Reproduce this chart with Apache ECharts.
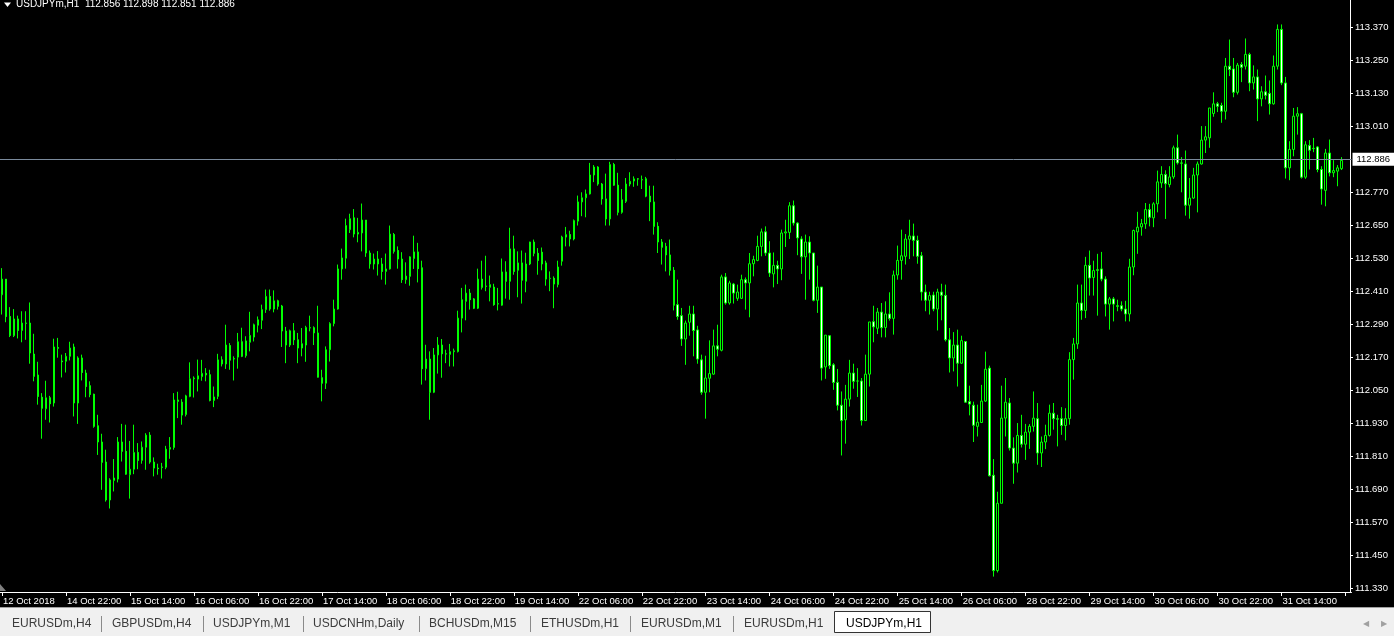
<!DOCTYPE html>
<html><head><meta charset="utf-8">
<script src="https://cdn.jsdelivr.net/npm/echarts@6/dist/echarts.min.js"></script>
<style>html,body{margin:0;padding:0;background:#000;overflow:hidden}#c{width:1394px;height:636px;}</style>
</head><body><div id="c"></div>
<script>
// ---------- data ----------
const symbolTitle = 'USDJPYm,H1';
const lastQuote = ['112.856', '112.898', '112.851', '112.886'];
const bidPrice = 112.886;
const xTickLabels = ['12 Oct 2018','14 Oct 22:00','15 Oct 14:00','16 Oct 06:00','16 Oct 22:00','17 Oct 14:00','18 Oct 06:00','18 Oct 22:00','19 Oct 14:00','22 Oct 06:00','22 Oct 22:00','23 Oct 14:00','24 Oct 06:00','24 Oct 22:00','25 Oct 14:00','26 Oct 06:00','28 Oct 22:00','29 Oct 14:00','30 Oct 06:00','30 Oct 22:00','31 Oct 14:00'];
const barsPerLabel = 16;
const yTicks = [111.330,111.450,111.570,111.690,111.810,111.930,112.050,112.170,112.290,112.410,112.530,112.650,112.770,113.010,113.130,113.250,113.370];
const tabNames = ['EURUSDm,H4','GBPUSDm,H4','USDJPYm,M1','USDCNHm,Daily','BCHUSDm,M15','ETHUSDm,H1','EURUSDm,M1','EURUSDm,H1','USDJPYm,H1'];

const openP = [
112.397,112.454,112.318,112.248,112.309,112.267,112.294,112.294,112.181,112.105,
112.024,111.982,112.022,112.003,112.205,112.156,112.155,112.173,112.207,112.003,
112.167,112.112,112.066,112.035,111.920,111.861,111.788,111.650,111.721,111.726,
111.861,111.827,111.742,111.762,111.823,111.794,111.842,111.886,111.788,111.766,
111.770,111.769,111.835,111.841,112.014,112.006,111.961,112.027,112.091,112.090,
112.099,112.111,112.106,112.012,112.027,112.160,112.145,112.212,112.163,112.170,
112.226,112.175,112.224,112.243,112.286,112.304,112.343,112.391,112.345,112.375,
112.356,112.265,112.214,112.266,112.233,112.203,112.214,112.277,112.277,112.258,
112.095,112.075,112.197,112.292,112.345,
112.491,112.530,112.634,112.677,112.618,112.622,112.669,112.549,112.509,112.527,
112.509,112.482,112.491,112.616,112.558,112.527,112.452,112.464,112.529,112.553,
112.495,112.128,112.163,112.042,112.178,112.214,112.182,112.180,112.190,112.190,
112.312,112.373,112.403,112.382,112.348,112.454,112.427,112.424,112.425,112.363,
112.359,112.480,112.446,112.564,112.486,112.513,112.446,112.509,112.589,112.548,
112.552,112.513,112.456,112.457,112.434,112.519,112.607,112.616,112.600,112.665,
112.735,112.750,112.764,112.833,112.862,112.800,112.746,112.673,112.871,112.796,
112.697,112.737,112.800,112.811,112.819,112.816,112.819,112.756,112.735,112.646,
112.589,112.573,112.542,112.486,
112.361,112.321,112.236,112.297,112.327,112.269,112.160,112.042,112.093,112.108,
112.211,112.195,112.462,112.367,112.436,112.384,112.384,112.452,112.440,112.510,
112.522,112.573,112.626,112.549,112.473,112.504,112.491,112.622,112.624,112.721,
112.658,112.600,112.535,112.589,112.549,112.377,112.425,112.134,112.248,112.142,
112.078,111.995,111.942,112.017,112.112,112.083,112.083,111.939,112.108,112.299,
112.275,112.334,112.278,112.327,112.311,112.469,112.522,112.537,112.599,112.611,
112.595,112.539,112.407,112.377,112.396,112.345,112.407,112.395,112.233,112.167,
112.214,112.148,112.227,112.008,111.995,111.918,111.932,112.010,112.130,111.740,
111.393,111.638,111.948,112.003,
111.839,111.784,111.885,111.853,111.897,111.918,111.946,111.821,111.861,111.885,111.966,111.946,111.946,111.921,111.946,112.161,
112.218,112.367,112.340,112.504,112.460,112.488,112.491,112.454,112.363,112.382,
112.357,112.357,112.345,112.327,112.498,112.626,112.644,112.655,112.707,112.677,
112.728,112.804,112.835,112.798,112.826,112.932,112.877,112.873,112.723,112.749,
112.833,112.873,112.960,112.968,113.057,113.092,113.086,113.065,113.229,113.219,
113.134,113.235,113.229,113.272,113.168,113.190,113.110,113.136,113.130,113.092,
113.229,113.363,113.168,112.859,112.926,113.047,113.056,112.825,112.940,112.930,
112.935,112.853,112.777,112.913,112.841,112.847,112.856
];
const highP = [
112.494,112.454,112.352,112.345,112.321,112.337,112.337,112.369,112.255,112.153,
112.039,112.084,112.029,112.237,112.240,112.179,112.185,112.226,112.219,112.173,
112.179,112.124,112.082,112.037,111.960,111.891,111.833,111.729,111.799,111.879,
111.927,111.924,111.865,111.924,111.857,111.863,111.893,111.897,111.805,111.782,
111.785,111.847,111.879,112.039,112.044,112.017,112.033,112.151,112.100,112.161,
112.160,112.130,112.124,112.063,112.182,112.173,112.288,112.221,112.173,112.258,
112.277,112.246,112.335,112.292,112.318,112.361,112.416,112.416,112.413,112.379,
112.360,112.280,112.270,112.294,112.258,112.276,112.284,112.321,112.282,112.357,
112.124,112.209,112.297,112.379,112.507,
112.565,112.674,112.692,112.709,112.677,112.729,112.669,112.558,112.547,112.556,
112.531,112.547,112.649,112.622,112.573,112.552,112.515,112.537,112.612,112.586,
112.521,112.215,112.191,112.203,112.243,112.236,112.197,112.218,112.201,112.339,
112.422,112.434,112.418,112.385,112.492,112.521,112.539,112.467,112.437,112.422,
112.529,112.519,112.641,112.612,112.555,112.558,112.550,112.590,112.598,112.567,
112.569,112.521,112.482,112.464,112.521,112.612,112.644,112.630,112.671,112.758,
112.770,112.780,112.877,112.869,112.865,112.804,112.838,112.881,112.877,112.841,
112.782,112.822,112.843,112.828,112.822,112.831,112.826,112.794,112.794,112.661,
112.600,112.586,112.598,112.498,
112.452,112.349,112.303,112.357,112.357,112.284,112.179,112.175,112.231,112.270,
112.288,112.470,112.476,112.448,112.440,112.434,112.470,112.460,112.549,112.539,
112.612,112.638,112.646,112.592,112.551,112.521,112.634,112.670,112.734,112.740,
112.661,112.610,112.616,112.610,112.549,112.503,112.425,112.250,112.249,112.148,
112.127,112.045,112.069,112.160,112.146,112.130,112.094,112.179,112.298,112.357,
112.349,112.367,112.373,112.406,112.485,112.576,112.634,112.618,112.670,112.656,
112.612,112.553,112.434,112.408,112.408,112.419,112.437,112.434,112.276,112.261,
112.270,112.248,112.227,112.066,112.008,111.997,112.069,112.190,112.139,111.799,
111.680,112.066,112.094,112.021,
111.878,111.930,111.960,111.927,111.926,112.045,112.003,111.881,111.924,111.997,112.003,111.960,111.988,111.984,112.188,112.240,
112.434,112.434,112.535,112.558,112.521,112.546,112.553,112.464,112.389,112.389,
112.379,112.373,112.375,112.528,112.634,112.699,112.673,112.731,112.728,112.734,
112.849,112.865,112.850,112.865,112.940,112.980,112.898,112.922,112.822,112.859,
112.882,113.011,113.011,113.077,113.134,113.099,113.096,113.259,113.326,113.259,
113.241,113.244,113.330,113.278,113.232,113.217,113.156,113.195,113.177,113.268,
113.381,113.381,113.190,112.956,113.077,113.080,113.059,112.956,112.960,112.968,
112.938,112.865,112.928,112.962,112.887,112.869,112.898
];
const lowP = [
112.325,112.297,112.243,112.243,112.238,112.224,112.233,112.146,112.082,111.997,
111.873,111.942,111.932,111.990,112.168,112.096,112.114,112.158,111.954,111.927,
112.085,112.024,112.024,111.913,111.814,111.687,111.644,111.619,111.681,111.714,
111.790,111.742,111.655,111.744,111.762,111.782,111.760,111.782,111.736,111.742,
111.728,111.762,111.800,111.833,111.948,111.924,111.954,112.024,112.023,112.045,
112.084,112.082,112.009,111.988,112.017,112.136,112.127,112.124,112.085,112.128,
112.170,112.168,112.191,112.227,112.260,112.272,112.331,112.339,112.333,112.343,
112.207,112.148,112.207,112.214,112.148,112.173,112.153,112.264,112.214,112.096,
112.009,112.054,112.154,112.282,112.343,
112.452,112.492,112.622,112.606,112.588,112.555,112.535,112.492,112.489,112.467,
112.452,112.434,112.489,112.547,112.492,112.440,112.437,112.430,112.491,112.442,
112.070,112.085,111.942,112.039,112.110,112.095,112.148,112.136,112.136,112.187,
112.260,112.304,112.343,112.345,112.345,112.416,112.410,112.373,112.357,112.340,
112.357,112.383,112.379,112.470,112.388,112.365,112.406,112.505,112.537,112.470,
112.486,112.430,112.410,112.348,112.424,112.503,112.573,112.573,112.595,112.649,
112.683,112.679,112.762,112.807,112.794,112.725,112.649,112.649,112.794,112.686,
112.692,112.731,112.792,112.790,112.794,112.782,112.752,112.665,112.616,112.549,
112.507,112.482,112.467,112.340,
112.306,112.211,112.142,112.248,112.173,112.146,112.033,111.946,112.042,112.106,
112.173,112.191,112.361,112.361,112.365,112.375,112.382,112.343,112.315,112.464,
112.519,112.537,112.539,112.462,112.424,112.436,112.450,112.571,112.600,112.649,
112.541,112.473,112.379,112.452,112.373,112.331,112.085,112.091,112.127,112.051,
111.976,111.812,111.855,111.990,112.055,112.025,111.921,111.938,112.063,112.224,
112.254,112.242,112.242,112.303,112.252,112.452,112.452,112.507,112.527,112.537,
112.510,112.376,112.337,112.325,112.337,112.267,112.304,112.227,112.114,112.118,
112.063,112.145,112.003,111.958,111.861,111.881,111.930,112.007,111.736,111.371,
111.386,111.638,111.881,111.830,
111.709,111.750,111.841,111.796,111.836,111.899,111.778,111.770,111.835,111.881,111.906,111.845,111.887,111.867,111.924,112.088,
112.200,112.306,112.312,112.394,112.394,112.321,112.446,112.318,112.270,112.300,
112.337,112.337,112.300,112.300,112.468,112.546,112.612,112.637,112.646,112.643,
112.697,112.786,112.673,112.788,112.819,112.871,112.770,112.685,112.674,112.746,
112.697,112.871,112.913,112.932,113.045,113.062,113.023,113.035,113.193,113.116,
113.126,113.171,113.217,113.138,113.144,113.029,113.083,113.108,113.053,113.089,
113.217,113.160,112.820,112.814,112.901,112.980,112.820,112.819,112.853,112.916,
112.843,112.725,112.719,112.828,112.825,112.792,112.851
];
const closeP = [
112.454,112.318,112.249,112.309,112.267,112.294,112.293,112.185,112.100,112.027,
111.984,112.022,112.000,112.207,112.202,112.153,112.173,112.203,112.003,112.167,
112.114,112.063,112.034,111.918,111.861,111.787,111.650,111.723,111.730,111.861,
111.827,111.744,111.762,111.823,111.794,111.842,111.886,111.788,111.766,111.764,
111.769,111.835,111.841,112.014,112.009,111.959,112.029,112.091,112.094,112.102,
112.111,112.105,112.012,112.025,112.160,112.145,112.214,112.159,112.165,112.226,
112.173,112.229,112.249,112.288,112.306,112.343,112.391,112.345,112.375,112.355,
112.265,112.214,112.266,112.233,112.203,112.219,112.278,112.276,112.258,112.097,
112.075,112.197,112.292,112.345,112.491,
112.531,112.649,112.674,112.618,112.624,112.669,112.549,112.509,112.527,112.509,
112.482,112.491,112.618,112.555,112.527,112.452,112.465,112.535,112.553,112.492,
112.128,112.163,112.042,112.178,112.214,112.182,112.181,112.190,112.193,112.312,
112.379,112.403,112.379,112.348,112.454,112.424,112.429,112.434,112.361,112.365,
112.480,112.446,112.564,112.482,112.513,112.450,112.509,112.589,112.548,112.522,
112.509,112.454,112.457,112.436,112.498,112.607,112.616,112.600,112.667,112.735,
112.750,112.764,112.833,112.862,112.800,112.746,112.673,112.871,112.796,112.697,
112.743,112.800,112.810,112.819,112.818,112.815,112.756,112.735,112.646,112.589,
112.570,112.542,112.486,112.359,
112.318,112.236,112.294,112.327,112.267,112.163,112.042,112.094,112.110,112.211,
112.199,112.462,112.367,112.440,112.403,112.407,112.452,112.440,112.510,112.525,
112.573,112.626,112.549,112.476,112.504,112.491,112.622,112.626,112.721,112.658,
112.604,112.535,112.589,112.549,112.377,112.425,112.130,112.250,112.139,112.078,
111.995,111.939,112.017,112.112,112.082,112.083,111.939,112.108,112.298,112.280,
112.334,112.277,112.327,112.311,112.469,112.522,112.539,112.600,112.611,112.595,
112.537,112.407,112.377,112.394,112.345,112.407,112.395,112.233,112.167,112.214,
112.148,112.230,112.006,111.999,111.922,111.933,112.010,112.126,111.738,111.393,
111.638,111.948,112.006,111.839,
111.784,111.885,111.853,111.897,111.918,111.948,111.821,111.861,111.885,111.966,111.946,111.944,111.921,111.946,112.161,112.218,
112.367,112.340,112.504,112.458,112.485,112.486,112.454,112.363,112.382,112.363,
112.355,112.345,112.327,112.498,112.631,112.643,112.656,112.707,112.679,112.728,
112.808,112.835,112.801,112.826,112.932,112.877,112.876,112.723,112.749,112.833,
112.873,112.960,112.972,113.077,113.092,113.083,113.065,113.229,113.217,113.134,
113.233,113.225,113.272,113.168,113.190,113.110,113.136,113.123,113.092,113.229,
113.363,113.168,112.859,112.926,113.047,113.056,112.825,112.943,112.923,112.929,
112.853,112.782,112.913,112.841,112.849,112.859,112.886
];

// ---------- build ----------
const N_SLOTS = openP.length + 2;           // a couple of empty slots to the right, like MT4
const categories = Array.from({length: N_SLOTS}, (_, i) => String(i));
const candles = openP.map((o, i) => [o, closeP[i], lowP[i], highP[i]]);
const FONT = 'Liberation Sans, Arial, sans-serif';

const chart = echarts.init(document.getElementById('c'), null, {renderer: 'canvas'});

// tab-bar layout (pixel positions of the MT4 window chrome)
const tabTextX = [12, 112, 213, 313, 429, 541, 641, 744, 846];
const sepX = [101, 203, 303, 419, 530, 630, 733];
const graphics = [
  // header
  {type: 'polygon', shape: {points: [[4, 2.5], [11, 2.5], [7.5, 7]]}, style: {fill: '#fff'}, silent: true},
  {type: 'text', x: 16, y: 4, style: {text: symbolTitle + '  ' + lastQuote.join(' '), fill: '#fff', font: '10px ' + FONT, textVerticalAlign: 'middle'}, silent: true},
  // chart shift marker bottom-left
  {type: 'polygon', shape: {points: [[0, 584], [0, 591], [6, 591]]}, style: {fill: '#808080'}, silent: true},
  // tab bar
  {type: 'rect', shape: {x: 0, y: 607, width: 1394, height: 29}, style: {fill: '#f0f0f0'}, silent: true},
  {type: 'line', shape: {x1: 0, y1: 607.5, x2: 1394, y2: 607.5}, style: {stroke: '#a0a0a0', lineWidth: 1}, silent: true},
  {type: 'rect', shape: {x: 834.5, y: 611.5, width: 96, height: 21}, style: {fill: '#ffffff', stroke: '#333', lineWidth: 1}, silent: true},
  {type: 'text', x: 1366, y: 624, style: {text: '◀', fill: '#a0a0a0', font: '8px ' + FONT, textAlign: 'center', textVerticalAlign: 'middle'}, silent: true},
  {type: 'text', x: 1384, y: 624, style: {text: '▶', fill: '#a0a0a0', font: '8px ' + FONT, textAlign: 'center', textVerticalAlign: 'middle'}, silent: true}
];
tabNames.forEach((t, i) => {
  graphics.push({type: 'text', x: tabTextX[i], y: 624, silent: true,
    style: {text: t, fill: i === tabNames.length - 1 ? '#000' : '#3c3c3c', font: '12px ' + FONT, textVerticalAlign: 'middle'}});
});
sepX.forEach(x => {
  graphics.push({type: 'line', silent: true, shape: {x1: x + 0.5, y1: 616, x2: x + 0.5, y2: 632}, style: {stroke: '#8a8a8a', lineWidth: 1}});
});

chart.setOption({
  animation: false,
  backgroundColor: '#000',
  grid: {left: -0.5, top: 0, width: 4 * N_SLOTS, height: 592, containLabel: false},
  xAxis: {
    type: 'category',
    data: categories,
    boundaryGap: true,
    axisLine: {show: true, lineStyle: {color: '#ffffff', width: 1}},
    axisTick: {show: true, alignWithLabel: true, length: 4, interval: (i) => i % barsPerLabel === 0, lineStyle: {color: '#ffffff'}},
    axisLabel: {
      show: true, interval: (i) => i % barsPerLabel === 0 && (i / barsPerLabel) < xTickLabels.length,
      formatter: (v, i) => xTickLabels[i / barsPerLabel] || '',
      color: '#ffffff', fontFamily: FONT, fontSize: 9.5, align: 'left', margin: 4, padding: [0, 0, 0, 1]
    },
    splitLine: {show: false}
  },
  yAxis: {
    type: 'value',
    position: 'right',
    offset: -1.5,
    min: 111.315, max: 113.470,
    scale: true,
    axisLine: {show: true, lineStyle: {color: '#ffffff', width: 1}},
    axisTick: {show: true, inside: false, length: 3, customValues: yTicks, lineStyle: {color: '#ffffff'}},
    axisLabel: {show: true, customValues: yTicks, formatter: (v) => Number(v).toFixed(3), color: '#ffffff', fontFamily: FONT, fontSize: 9.5, margin: 5},
    splitLine: {show: false}
  },
  series: [{
    type: 'candlestick',
    data: candles,
    barWidth: 2,
    itemStyle: {
      color: '#000000', color0: '#ffffff',
      borderColor: '#00ff00', borderColor0: '#00ff00', borderColorDoji: '#00ff00', borderWidth: 1
    },
    silent: true,
    markLine: {
      silent: true, symbol: ['none', 'none'], animation: false,
      lineStyle: {color: '#7a8a9c', width: 1, type: 'solid'},
      label: {show: true, position: 'end', distance: 1, formatter: () => bidPrice.toFixed(3), color: '#000', backgroundColor: '#ffffff', fontFamily: FONT, fontSize: 9.5, padding: [2, 4, 1, 4]},
      emphasis: {disabled: true},
      data: [{yAxis: bidPrice}]
    }
  }],
  graphic: graphics
});
</script>
</body></html>
